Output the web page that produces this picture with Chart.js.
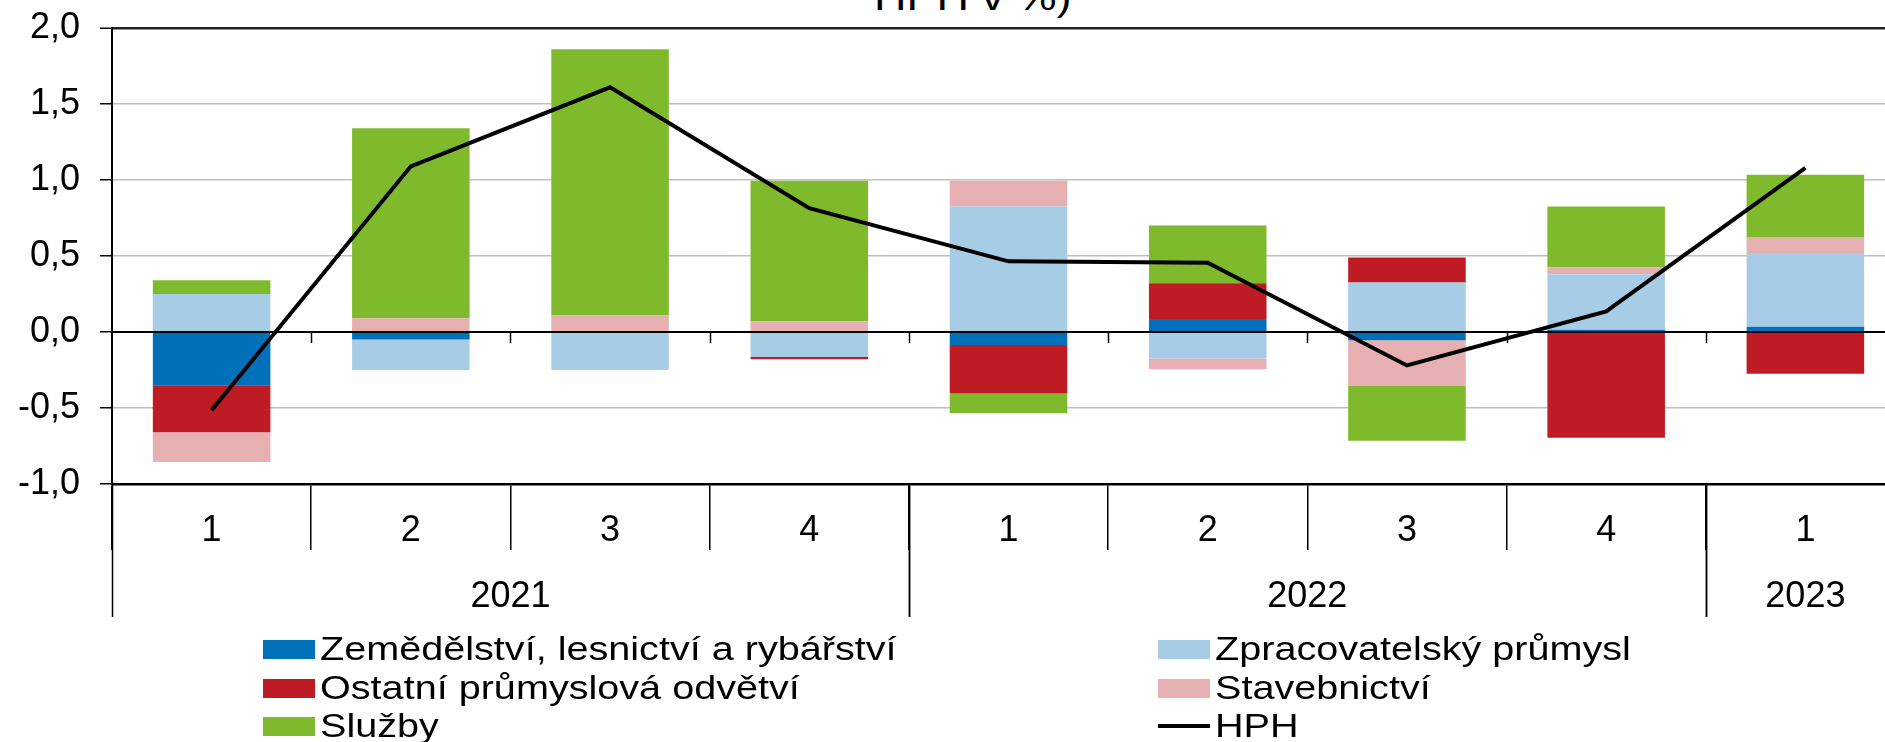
<!DOCTYPE html>
<html lang="cs">
<head>
    <meta charset="UTF-8">
    <title>HPH</title>
    <style>
        body {
            margin: 0;
            overflow: hidden;
            background: #fff;
            font-family: "Liberation Sans", Arial, sans-serif;
        }
        #title {
            position: absolute;
            left: 874px;
            top: -20px;
            font-size: 36px;
            line-height: 36px;
            white-space: nowrap;
            transform: scaleX(1.25);
            transform-origin: left top;
        }
        .wrap {
            position: absolute;
            left: 0;
            top: 0;
            width: 1905px;
            height: 742px;
        }
        .item {
            position: absolute;
            height: 19px;
        }
        .item .sw {
            position: absolute;
            left: 0;
            top: 0;
            width: 52px;
            height: 19px;
        }
        .item .sw.line {
            top: 7px;
            height: 4px;
        }
        .item span {
            position: absolute;
            left: 57px;
            top: -9px;
            font-size: 33px;
            line-height: 36px;
            white-space: nowrap;
            transform: scaleX(1.2);
            transform-origin: left center;
        }
    </style>
    <script src="https://cdn.jsdelivr.net/npm/chart.js"></script>
</head>
<body>
    <div id="title">HPH v %)</div>
    <div class="wrap"><canvas id="chart"></canvas></div>
    <div id="legend"></div>
    <script>
        // kategorie
        const quarters = ['1', '2', '3', '4', '1', '2', '3', '4', '1'];
        const years = ['2021', '2022', '2023'];
        const yearSpan = [4, 4, 1];

        // příspěvky odvětví (p.b.)
        const zemedelstvi = [-0.35, -0.05, 0.00, 0.00, -0.085, 0.085, -0.055, 0.015, 0.035];
        const zpracovatelsky = [0.25, -0.20, -0.25, -0.165, 0.825, -0.175, 0.325, 0.365, 0.485];
        const ostatni = [-0.31, 0.00, 0.00, -0.015, -0.32, 0.235, 0.165, -0.695, -0.275];
        const stavebnictvi = [-0.195, 0.09, 0.11, 0.07, 0.17, -0.07, -0.30, 0.045, 0.105];
        const sluzby = [0.09, 1.25, 1.75, 0.925, -0.13, 0.38, -0.36, 0.40, 0.41];
        const hph = [-0.515, 1.09, 1.61, 0.815, 0.465, 0.455, -0.22, 0.135, 1.08];

        const yTicks = { min: -1, max: 2, step: 0.5 };

        Chart.defaults.font.family = '"Liberation Sans", Arial, sans-serif';
        Chart.defaults.color = '#000';

        const barSets = [
            { label: 'Zemědělství, lesnictví a rybářství', data: zemedelstvi, color: '#0070bb' },
            { label: 'Zpracovatelský průmysl', data: zpracovatelsky, color: '#a7cde6' },
            { label: 'Ostatní průmyslová odvětví', data: ostatni, color: '#be1b24' },
            { label: 'Stavebnictví', data: stavebnictvi, color: '#e6afb1' },
            { label: 'Služby', data: sluzby, color: '#7fba2c' }
        ];

        const datasets = barSets.map(s => ({
            type: 'bar',
            label: s.label,
            data: s.data,
            backgroundColor: s.color,
            borderWidth: 0,
            barPercentage: 0.59,
            categoryPercentage: 1.0,
            order: 1
        }));
        datasets.push({
            type: 'line',
            label: 'HPH',
            data: hph,
            borderColor: '#000',
            borderWidth: 4,
            pointRadius: 0,
            tension: 0,
            fill: false,
            stack: 'hph',
            order: 0
        });

        // nulová osa nad sloupci, roky pod osou
        const axisExtras = {
            id: 'axisExtras',
            beforeDatasetDraw(chart, args) {
                if (chart.getDatasetMeta(args.index).type !== 'line') return;
                const ctx = chart.ctx;
                const x = chart.scales.x;
                const y0 = chart.scales.y.getPixelForValue(0);
                const cw = x.getPixelForValue(1) - x.getPixelForValue(0);
                ctx.save();
                ctx.strokeStyle = '#000';
                ctx.lineWidth = 2;
                ctx.beginPath();
                ctx.moveTo(chart.chartArea.left, y0);
                ctx.lineTo(chart.chartArea.right, y0);
                ctx.stroke();
                ctx.lineWidth = 1.5;
                for (let i = 1; i < quarters.length; i++) {
                    const px = Math.round(x.getPixelForValue(i) - cw / 2) + 0.5;
                    ctx.beginPath();
                    ctx.moveTo(px, y0);
                    ctx.lineTo(px, y0 + 11);
                    ctx.stroke();
                }
                ctx.restore();
            },
            afterDraw(chart) {
                const ctx = chart.ctx;
                const x = chart.scales.x;
                const cw = x.getPixelForValue(1) - x.getPixelForValue(0);
                const edge = i => x.getPixelForValue(i) - cw / 2;
                ctx.save();
                ctx.strokeStyle = '#000';
                ctx.lineWidth = 1.5;
                ctx.fillStyle = '#000';
                ctx.font = '36px "Liberation Sans", Arial, sans-serif';
                ctx.textAlign = 'center';
                ctx.textBaseline = 'middle';
                let start = 0;
                years.forEach((yr, k) => {
                    const end = start + yearSpan[k];
                    [start, end].forEach(i => {
                        const px = Math.round(edge(i)) + 0.5;
                        ctx.beginPath();
                        ctx.moveTo(px, x.top);
                        ctx.lineTo(px, x.top + 133);
                        ctx.stroke();
                    });
                    ctx.fillText(yr, (edge(start) + edge(end)) / 2, x.top + 113);
                    start = end;
                });
                ctx.restore();
            }
        };

        new Chart(document.getElementById('chart'), {
            data: { labels: quarters, datasets: datasets },
            plugins: [axisExtras],
            options: {
                responsive: true,
                maintainAspectRatio: false,
                animation: false,
                layout: { padding: { top: 28, bottom: 125, left: 0, right: 0 } },
                plugins: {
                    legend: { display: false },
                    tooltip: { enabled: false }
                },
                scales: {
                    x: {
                        stacked: true,
                        offset: true,
                        grid: {
                            offset: true,
                            drawOnChartArea: false,
                            drawTicks: true,
                            tickLength: 66,
                            color: '#000',
                            lineWidth: 1.5
                        },
                        border: { color: '#000', width: 2.5 },
                        ticks: {
                            font: { size: 36 },
                            color: '#000',
                            padding: -41,
                            maxRotation: 0,
                            autoSkip: false
                        },
                        afterFit(s) { s.height = 133; }
                    },
                    y: {
                        stacked: true,
                        min: yTicks.min,
                        max: yTicks.max,
                        afterFit(s) {
                            s.width = 112;
                            s.paddingTop = 0;
                            s.paddingBottom = 0;
                        },
                        ticks: {
                            stepSize: yTicks.step,
                            padding: 20,
                            font: { size: 36 },
                            color: '#000',
                            callback: v => v.toFixed(1).replace('.', ',')
                        },
                        grid: {
                            color: c => (c.tick.value === 2 || c.tick.value === 0) ? '#222' : '#bfbfbf',
                            lineWidth: c => c.tick.value === 2 ? 2.5 : 1.5,
                            tickColor: '#000',
                            tickLength: 12,
                            tickWidth: 1.5
                        },
                        border: { color: '#000', width: 2 }
                    }
                }
            }
        });

        // legenda ve dvou sloupcích
        const legendItems = barSets.map(s => ({ label: s.label, color: s.color, line: false }));
        legendItems.push({ label: 'HPH', color: '#000', line: true });
        const legend = document.getElementById('legend');
        legendItems.forEach((it, i) => {
            const div = document.createElement('div');
            div.className = 'item';
            div.style.left = (i % 2 === 0 ? 263 : 1158) + 'px';
            div.style.top = (640 + Math.floor(i / 2) * 38.5) + 'px';
            const sw = document.createElement('div');
            sw.className = 'sw' + (it.line ? ' line' : '');
            sw.style.background = it.color;
            const span = document.createElement('span');
            span.textContent = it.label;
            div.appendChild(sw);
            div.appendChild(span);
            legend.appendChild(div);
        });
    </script>
</body>
</html>
